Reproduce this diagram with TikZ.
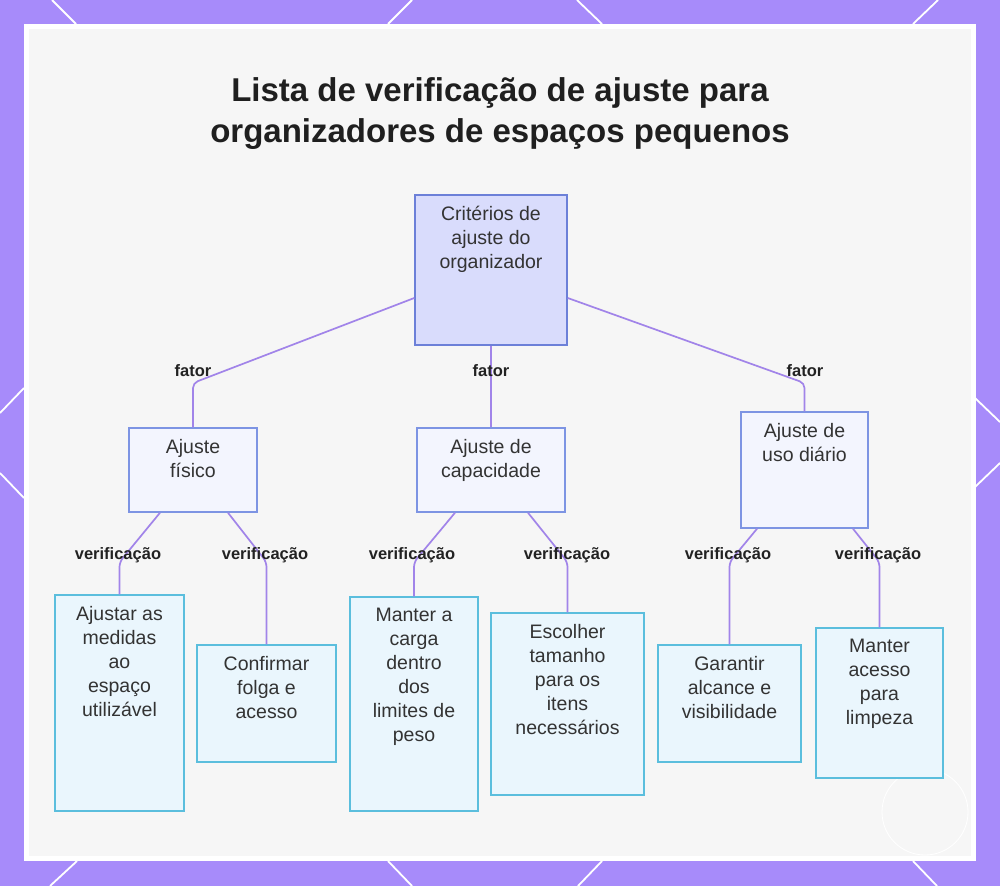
\documentclass[tikz,border=0pt]{standalone}
\usepackage{fontspec}
\setmainfont{Liberation Sans}
\usetikzlibrary{calc}
\definecolor{framec}{HTML}{A78BFA}
\definecolor{bgc}{HTML}{F6F6F6}
\definecolor{edgec}{HTML}{A184E9}
\definecolor{rootfill}{HTML}{D9DCFC}
\definecolor{rootline}{HTML}{6C80D8}
\definecolor{midfill}{HTML}{F3F5FE}
\definecolor{midline}{HTML}{7D94E3}
\definecolor{leaffill}{HTML}{EAF6FD}
\definecolor{leafline}{HTML}{5BBEDD}
\definecolor{txtc}{HTML}{333333}
\definecolor{lblc}{HTML}{222222}
\newcommand{\bt}[3]{\parbox[c][#2pt][t]{#1pt}{\centering\vspace{11pt}#3}}
\tikzset{
  basebox/.style={inner sep=0pt, line width=1.5pt, text=txtc, font=\fontsize{19.5}{24}\selectfont},
  rootbox/.style={basebox, draw=rootline, fill=rootfill},
  midbox/.style={basebox, draw=midline, fill=midfill},
  leafbox/.style={basebox, draw=leafline, fill=leaffill},
  edge/.style={draw=edgec, line width=1.7pt, rounded corners=5pt},
  lbl/.style={text=lblc, font=\bfseries\fontsize{16.5}{18}\selectfont, inner sep=1pt},
  titlestyle/.style={text=black!88, font=\bfseries\fontsize{33}{41}\selectfont, align=center},
  deco/.style={draw=white, line width=1.8pt}
}
\begin{document}
\begin{tikzpicture}[x=1pt,y=-1pt]
\useasboundingbox (0,0) rectangle (1000,886);
% frame
\fill[framec] (0,0) rectangle (1000,886);
\draw[deco] (52,0) -- (76,24);
\draw[deco] (412,0) -- (388,24);
\draw[deco] (577,0) -- (602,24);
\draw[deco] (938,0) -- (913,24);
\draw[deco] (50,886) -- (77,861);
\draw[deco] (412,886) -- (388,861);
\draw[deco] (578,886) -- (602,861);
\draw[deco] (937,886) -- (913,861);
\draw[deco] (0,413) -- (24,388);
\draw[deco] (0,473) -- (24,498);
\draw[deco] (1000,422) -- (975,398);
\draw[deco] (1000,463) -- (975,487);
\fill[white] (24,24) rectangle (976,861);
\fill[bgc] (29,29) rectangle (971,856);
% watermark circle
\draw[white, line width=0.8pt] (925,812) circle (43);

% title
\node[titlestyle] (title) at (500,114) {Lista de verificação de ajuste para\\organizadores de espaços pequenos};

% nodes
\node[rootbox] (root) at (491,270) {\bt{152}{150}{Critérios de\\ajuste do\\organizador}};
\node[midbox] (fis) at (193,470) {\bt{128}{84}{Ajuste\\físico}};
\node[midbox] (cap) at (491,470) {\bt{148}{84}{Ajuste de\\capacidade}};
\node[midbox] (uso) at (804.5,470) {\bt{127}{116}{Ajuste de\\uso diário}};
\node[leafbox] (l1) at (119.5,703) {\bt{129}{216}{Ajustar as\\medidas\\ao\\espaço\\utilizável}};
\node[leafbox] (l2) at (266.5,703.5) {\bt{139}{117}{Confirmar\\folga e\\acesso}};
\node[leafbox] (l3) at (414,704) {\bt{128}{214}{Manter a\\carga\\dentro\\dos\\limites de\\peso}};
\node[leafbox] (l4) at (567.5,704) {\bt{153}{182}{Escolher\\tamanho\\para os\\itens\\necessários}};
\node[leafbox] (l5) at (729.5,703.5) {\bt{143}{117}{Garantir\\alcance e\\visibilidade}};
\node[leafbox] (l6) at (879.5,703) {\bt{127}{150}{Manter\\acesso\\para\\limpeza}};

% bend levels
\coordinate (yf) at (0,383);
\coordinate (yv) at (0,562);

% connectors
\draw[edge] ([yshift=-28pt]root.west) -- (fis.north |- yf) -- (fis.north);
\draw[edge] (root.south) -- (cap.north);
\draw[edge] ([yshift=-28pt]root.east) -- (uso.north |- yf) -- (uso.north);
\draw[edge] ([xshift=-33pt]fis.south) -- (l1.north |- yv) -- (l1.north);
\draw[edge] ([xshift=35pt]fis.south) -- (l2.north |- yv) -- (l2.north);
\draw[edge] ([xshift=-36pt]cap.south) -- (l3.north |- yv) -- (l3.north);
\draw[edge] ([xshift=37pt]cap.south) -- (l4.north |- yv) -- (l4.north);
\draw[edge] ([xshift=-47.5pt]uso.south) -- (l5.north |- yv) -- (l5.north);
\draw[edge] ([xshift=48.5pt]uso.south) -- (l6.north |- yv) -- (l6.north);

% labels
\node[lbl] (f1) at (193,371) {fator};
\node[lbl] (f2) at (491,371) {fator};
\node[lbl] (f3) at (805,371) {fator};
\node[lbl] (v1) at (118,555) {verificação};
\node[lbl] (v2) at (265,555) {verificação};
\node[lbl] (v3) at (412,555) {verificação};
\node[lbl] (v4) at (567,555) {verificação};
\node[lbl] (v5) at (728,555) {verificação};
\node[lbl] (v6) at (878,555) {verificação};
\end{tikzpicture}
\end{document}
